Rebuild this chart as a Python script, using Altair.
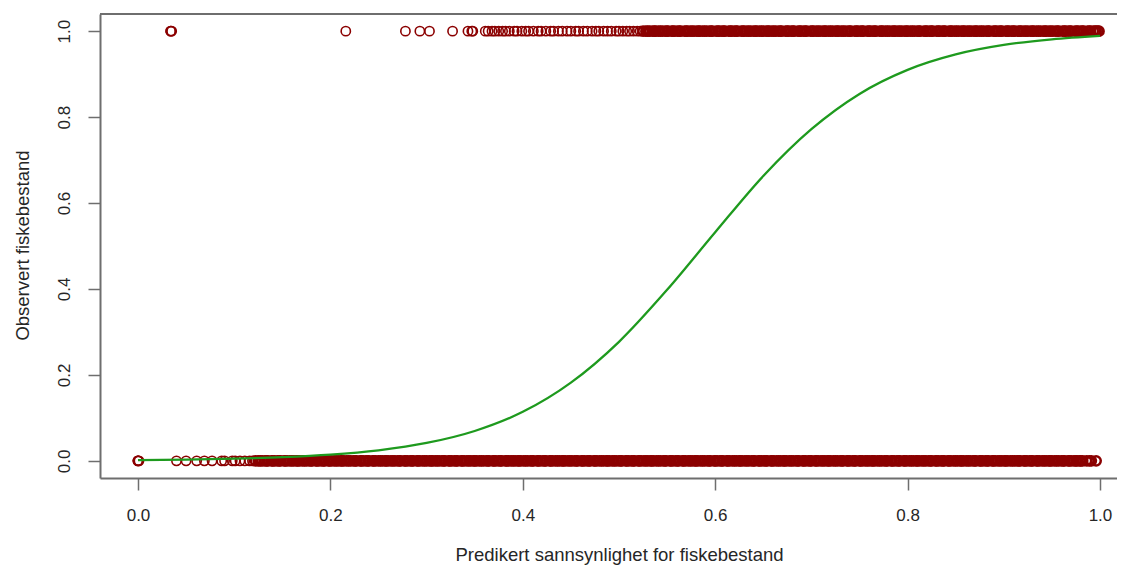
import altair as alt
import pandas as pd

# ---------------- data ----------------
# observed = 1 (top row of circles)
ones_sparse = [0.034, 0.034, 0.035, 0.216, 0.278, 0.293, 0.303, 0.327, 0.343, 0.347, 0.348]
ones_mid = [0.361, 0.364, 0.368, 0.371, 0.375, 0.379, 0.382, 0.386, 0.391, 0.394, 0.399,
            0.403, 0.406, 0.411, 0.416, 0.419, 0.424, 0.429, 0.432, 0.437, 0.441, 0.446,
            0.450, 0.455, 0.458, 0.463, 0.467, 0.472, 0.476, 0.479, 0.484, 0.488, 0.492,
            0.497, 0.500, 0.504, 0.508, 0.511, 0.515, 0.519, 0.522]
ones_dense_a = [0.525, 0.528, 0.532, 0.535, 0.538, 0.541, 0.545, 0.548, 0.551, 0.555, 0.558,
                0.561, 0.564, 0.568, 0.571, 0.574, 0.578, 0.581, 0.584, 0.587, 0.591, 0.594,
                0.597, 0.601, 0.604, 0.607, 0.610, 0.614, 0.617, 0.620, 0.623, 0.627, 0.630,
                0.633, 0.637, 0.640, 0.643, 0.646, 0.650, 0.653, 0.656, 0.659, 0.663, 0.666,
                0.669, 0.673, 0.676, 0.679, 0.682, 0.686, 0.689, 0.692, 0.695, 0.699, 0.702,
                0.705, 0.709, 0.712, 0.715, 0.718, 0.722, 0.725, 0.728, 0.731, 0.735, 0.738,
                0.741, 0.745, 0.748, 0.751, 0.754, 0.758]
ones_dense_b = [0.761, 0.764, 0.767, 0.771, 0.774, 0.777, 0.781, 0.784, 0.787, 0.790, 0.794,
                0.797, 0.800, 0.803, 0.807, 0.810, 0.813, 0.817, 0.820, 0.823, 0.826, 0.830,
                0.833, 0.836, 0.839, 0.843, 0.846, 0.849, 0.853, 0.856, 0.859, 0.862, 0.866,
                0.869, 0.872, 0.875, 0.879, 0.882, 0.885, 0.889, 0.892, 0.895, 0.898, 0.902,
                0.905, 0.908, 0.911, 0.915, 0.918, 0.921, 0.925, 0.928, 0.931, 0.934, 0.938,
                0.941, 0.944, 0.947, 0.951, 0.954, 0.957, 0.961, 0.964, 0.967, 0.970, 0.974,
                0.977, 0.980, 0.983, 0.987, 0.990, 0.993, 0.996, 0.998, 0.999]
ones_fill = [0.530, 0.537, 0.543, 0.550, 0.556, 0.563, 0.570, 0.576, 0.583, 0.589, 0.596,
             0.603, 0.609, 0.616, 0.622, 0.629, 0.635, 0.642, 0.648, 0.655, 0.661, 0.668,
             0.675, 0.681, 0.688, 0.694, 0.701, 0.707, 0.714, 0.720, 0.727, 0.733, 0.740,
             0.747, 0.753, 0.760, 0.766, 0.773, 0.779, 0.786, 0.792, 0.799, 0.805, 0.812,
             0.819, 0.825, 0.832, 0.838, 0.845, 0.851, 0.858, 0.864, 0.871, 0.877, 0.884,
             0.891, 0.897, 0.904, 0.910, 0.917, 0.923, 0.930, 0.936, 0.943, 0.949, 0.956,
             0.963, 0.969, 0.976, 0.982, 0.989, 0.995]

# observed = 0 (bottom row of circles)
zeros_sparse = [0.0, 0.0, 0.0, 0.001, 0.040, 0.050, 0.061, 0.069, 0.077, 0.087, 0.090,
                0.098, 0.101, 0.106, 0.111, 0.116, 0.119]
zeros_dense_a = [0.122, 0.125, 0.129, 0.132, 0.135, 0.139, 0.142, 0.145, 0.148, 0.152, 0.155,
                 0.158, 0.162, 0.165, 0.168, 0.171, 0.175, 0.178, 0.181, 0.185, 0.188, 0.191,
                 0.194, 0.198, 0.201, 0.204, 0.208, 0.211, 0.214, 0.217, 0.221, 0.224, 0.227,
                 0.231, 0.234, 0.237, 0.240, 0.244, 0.247, 0.250, 0.254, 0.257, 0.260, 0.263,
                 0.267, 0.270, 0.273, 0.277, 0.280, 0.283, 0.286, 0.290, 0.293, 0.296, 0.300]
zeros_dense_b = [0.303, 0.306, 0.309, 0.313, 0.316, 0.319, 0.323, 0.326, 0.329, 0.332, 0.336,
                 0.339, 0.342, 0.346, 0.349, 0.352, 0.355, 0.359, 0.362, 0.365, 0.369, 0.372,
                 0.375, 0.378, 0.382, 0.385, 0.388, 0.392, 0.395, 0.398, 0.401, 0.405, 0.408,
                 0.411, 0.415, 0.418, 0.421, 0.424, 0.428, 0.431, 0.434, 0.438, 0.441, 0.444,
                 0.447, 0.451, 0.454, 0.457, 0.461, 0.464, 0.467, 0.470, 0.474, 0.477, 0.480,
                 0.484, 0.487, 0.490, 0.493, 0.497]
zeros_dense_c = [0.500, 0.503, 0.507, 0.510, 0.513, 0.516, 0.520, 0.523, 0.526, 0.530, 0.533,
                 0.536, 0.539, 0.543, 0.546, 0.549, 0.553, 0.556, 0.559, 0.562, 0.566, 0.569,
                 0.572, 0.576, 0.579, 0.582, 0.585, 0.589, 0.592, 0.595, 0.599, 0.602, 0.605,
                 0.608, 0.612, 0.615, 0.618, 0.622, 0.625, 0.628, 0.631, 0.635, 0.638, 0.641,
                 0.645, 0.648, 0.651, 0.654, 0.658, 0.661, 0.664, 0.668, 0.671, 0.674, 0.677,
                 0.681, 0.684, 0.687, 0.691, 0.694, 0.697]
zeros_dense_d = [0.700, 0.704, 0.707, 0.710, 0.714, 0.717, 0.720, 0.723, 0.727, 0.730, 0.733,
                 0.737, 0.740, 0.743, 0.746, 0.750, 0.753, 0.756, 0.760, 0.763, 0.766, 0.769,
                 0.773, 0.776, 0.779, 0.783, 0.786, 0.789, 0.792, 0.796, 0.799, 0.802, 0.806,
                 0.809, 0.812, 0.815, 0.819, 0.822, 0.825, 0.829, 0.832, 0.835, 0.838, 0.842,
                 0.845, 0.848, 0.852, 0.855, 0.858, 0.861, 0.865, 0.868, 0.871, 0.875, 0.878,
                 0.881, 0.884, 0.888, 0.891, 0.894, 0.898]
zeros_dense_e = [0.901, 0.904, 0.907, 0.911, 0.914, 0.917, 0.921, 0.924, 0.927, 0.930, 0.934,
                 0.937, 0.940, 0.944, 0.947, 0.950, 0.953, 0.957, 0.960, 0.963, 0.967, 0.970,
                 0.973, 0.976, 0.979, 0.982, 0.986, 0.989, 0.991, 0.996]
zeros_fill = [0.127, 0.134, 0.140, 0.147, 0.153, 0.160, 0.166, 0.173, 0.180, 0.186, 0.193,
              0.199, 0.206, 0.212, 0.219, 0.226, 0.232, 0.239, 0.245, 0.252, 0.258, 0.265,
              0.272, 0.278, 0.285, 0.291, 0.298, 0.305, 0.311, 0.318, 0.324, 0.331, 0.337,
              0.344, 0.350, 0.357, 0.364, 0.370, 0.377, 0.383, 0.390, 0.396, 0.403, 0.410,
              0.416, 0.423, 0.429, 0.436, 0.442, 0.449, 0.456, 0.462, 0.469, 0.475, 0.482,
              0.488, 0.495, 0.502, 0.508, 0.515, 0.521, 0.528, 0.534, 0.541, 0.548, 0.554,
              0.561, 0.567, 0.574, 0.580, 0.587, 0.594, 0.600, 0.607, 0.613, 0.620, 0.626,
              0.633, 0.640, 0.646, 0.653, 0.659, 0.666, 0.672, 0.679, 0.686, 0.692, 0.699,
              0.705, 0.712, 0.718, 0.725, 0.732, 0.738, 0.745, 0.751, 0.758, 0.764, 0.771,
              0.778, 0.784, 0.791, 0.797, 0.804, 0.810, 0.817, 0.824, 0.830, 0.837, 0.843,
              0.850, 0.856, 0.863, 0.870, 0.876, 0.883, 0.889, 0.896, 0.902, 0.909, 0.916,
              0.922, 0.929, 0.935, 0.942, 0.948, 0.955, 0.962, 0.968, 0.975, 0.980]

# fitted curve
curve_x = [0.00, 0.05, 0.10, 0.15, 0.20, 0.25, 0.30, 0.35, 0.40, 0.45, 0.50,
           0.55, 0.60, 0.65, 0.70, 0.75, 0.80, 0.85, 0.90, 0.95, 1.00]
curve_y = [0.0016, 0.0028, 0.0049, 0.0084, 0.0143, 0.0245, 0.0415, 0.0694, 0.114, 0.182, 0.277,
           0.398, 0.532, 0.663, 0.772, 0.854, 0.910, 0.946, 0.968, 0.981, 0.989]

tick_values = [0.0, 0.2, 0.4, 0.6, 0.8, 1.0]
x_title = "Predikert sannsynlighet for fiskebestand"
y_title = "Observert fiskebestand"

# ---------------- build tables ----------------
sparse_ones = ones_sparse + ones_mid
dense_ones = ones_dense_a + ones_dense_b + ones_fill
dense_zeros = (zeros_dense_a + zeros_dense_b + zeros_dense_c
               + zeros_dense_d + zeros_dense_e + zeros_fill)
sparse_pts = pd.DataFrame({"x": zeros_sparse + sparse_ones,
                           "y": [0.0] * len(zeros_sparse) + [1.0] * len(sparse_ones)})
dense_pts = pd.DataFrame({"x": dense_zeros + dense_ones,
                          "y": [0.0] * len(dense_zeros) + [1.0] * len(dense_ones)})
curve = pd.DataFrame({"x": curve_x, "y": curve_y})

W, H = 1017, 464
FONT = "Liberation Sans"
FRAME = "#6e6e6e"
RED = "#8B0000"

xscale = alt.Scale(domain=[-0.0395, 1.0177], nice=False, zero=False)
yscale = alt.Scale(domain=[-0.04, 1.04], nice=False, zero=False)

xaxis = alt.Axis(values=tick_values, format=".1f", title=x_title, grid=False,
                 domainColor=FRAME, domainWidth=2, tickColor=FRAME, tickWidth=1.5,
                 tickSize=12, labelPadding=17, labelFontSize=17, labelFont=FONT,
                 labelColor="#262626", labelBaseline="top",
                 titleFont=FONT, titleFontSize=18.5, titleFontWeight="normal",
                 titleColor="#262626", titleX=519, titleY=82,
                 titleAlign="center", titleBaseline="alphabetic")
yaxis = alt.Axis(values=tick_values, format=".1f", title=y_title, grid=False,
                 domainColor=FRAME, domainWidth=2, tickColor=FRAME, tickWidth=1.5,
                 tickSize=12, labelPadding=19, labelFontSize=17, labelFont=FONT,
                 labelColor="#262626", labelAngle=270, labelAlign="center",
                 labelBaseline="alphabetic",
                 titleFont=FONT, titleFontSize=18.5, titleFontWeight="normal",
                 titleColor="#262626", titleAngle=270, titleX=-72, titleY=H / 2 - 1,
                 titleAlign="center", titleBaseline="alphabetic")

sparse_layer = alt.Chart(sparse_pts).mark_point(
    shape="circle", filled=False, size=86, strokeWidth=1.6,
    color=RED, opacity=1, clip=True
).encode(
    x=alt.X("x:Q", scale=xscale, axis=xaxis),
    y=alt.Y("y:Q", scale=yscale, axis=yaxis),
)

dense_layer = alt.Chart(dense_pts).mark_point(
    shape="circle", filled=False, size=86, strokeWidth=2.5,
    color=RED, opacity=1, clip=True
).encode(
    x=alt.X("x:Q", scale=xscale),
    y=alt.Y("y:Q", scale=yscale),
)

line = alt.Chart(curve).mark_line(
    color="#1e9a1e", strokeWidth=2.3, interpolate="monotone", clip=True
).encode(
    x=alt.X("x:Q", scale=xscale),
    y=alt.Y("y:Q", scale=yscale),
)

top_frame = alt.Chart(pd.DataFrame({"k": [0]})).mark_rule(
    color=FRAME, strokeWidth=2
).encode(x=alt.value(0), x2=alt.value(W), y=alt.value(0))

chart = alt.layer(sparse_layer, dense_layer, line, top_frame).properties(
    width=W, height=H,
    autosize=alt.AutoSizeParams(type="none"),
    padding={"left": 92, "top": 6, "right": 0, "bottom": 88},
    background="white",
).configure_view(stroke="transparent", strokeWidth=0)

chart.save("out.html", embed_options={"renderer": "svg", "actions": False})
